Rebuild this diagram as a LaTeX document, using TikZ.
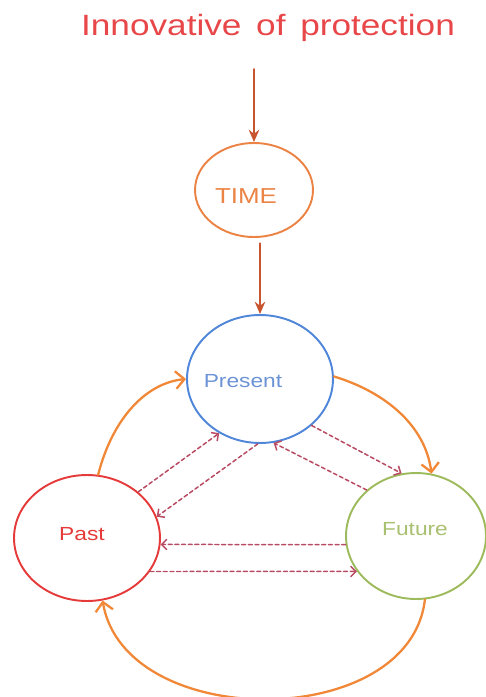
\documentclass[tikz,border=0pt]{standalone}
\usepackage{fontspec}
\setmainfont{Liberation Sans}[FakeStretch=1.2]
\usetikzlibrary{arrows.meta,shapes.geometric}
\definecolor{titlered}{HTML}{E8474A}
\definecolor{timeorange}{HTML}{EB8344}
\definecolor{downbrown}{HTML}{C8552F}
\definecolor{presentblue}{HTML}{4F86D9}
\definecolor{presenttext}{HTML}{6C93D6}
\definecolor{pastred}{HTML}{E53A3A}
\definecolor{futuregreen}{HTML}{9DBB5C}
\definecolor{futuretext}{HTML}{A8C070}
\definecolor{arcorange}{HTML}{F08838}
\definecolor{dashred}{HTML}{B84A62}
\begin{document}
\begin{tikzpicture}[x=0.02cm, y=-0.02cm, line cap=round, line join=round,
    circ/.style={ellipse, draw, line width=1.1pt, inner sep=0pt},
    lbl/.style={inner sep=0pt, font=\fontsize{10.8}{12}\selectfont},
    down/.style={draw=downbrown, line width=1.1pt, -{Stealth[length=7pt,width=6pt]}},
    cycle/.style={draw=arcorange, line width=1.3pt, -{Straight Barb[length=5pt,width=10pt]}},
    link/.style={draw=dashred, line width=0.85pt, dash pattern=on 2.2pt off 1.6pt, -{Straight Barb[length=3pt,width=6pt]}}]
  \useasboundingbox (0,0) rectangle (486,697);
  % 标题
  \node[text=titlered, inner sep=0pt, font=\fontsize{16.7}{20}\selectfont] (title) at (268,28) {Innovative\, of\, protection};
  \coordinate (top) at (254,69);
  % 时间
  \node[circ, draw=timeorange, minimum width=2.36cm, minimum height=1.88cm] (time) at (254,190) {};
  \node[lbl, text=timeorange, font=\fontsize{12.3}{14}\selectfont] (timelbl) at (246,196) {TIME};
  % 三个状态
  \node[circ, draw=presentblue, minimum width=2.92cm, minimum height=2.56cm] (present) at (260,379) {};
  \node[lbl, text=presenttext] (presentlbl) at (243,381) {Present};
  \node[circ, draw=pastred, minimum width=2.92cm, minimum height=2.52cm] (past) at (87,538) {};
  \node[lbl, text=pastred] (pastlbl) at (82,534) {Past};
  \node[circ, draw=futuregreen, minimum width=2.80cm, minimum height=2.52cm] (future) at (416,536) {};
  \node[lbl, text=futuretext] (futurelbl) at (415,529) {Future};
  % 竖直箭头
  \draw[down] (top) -- (time.north);
  \draw[down, shorten <=3pt] (time.south -| present.north) -- (present.north);
  % 外圈
  \draw[cycle] (past.80) .. controls (112,420) and (145,383) .. (present.180);
  \draw[cycle] (present.2) .. controls (385,392) and (425,425) .. (future.76);
  \draw[cycle] (future.278) .. controls (410,732) and (125,732) .. (past.284);
  % 虚线
  \draw[link] (past.42) -- (present.233);
  \draw[link] (present.268) -- (past.17);
  \draw[link] (present.318) -- (future.103);
  \draw[link] (future.137) -- (present.282);
  \draw[link] (future.187) -- (past.-5);
  \draw[link] (past.-28) -- (future.211);
\end{tikzpicture}
\end{document}
